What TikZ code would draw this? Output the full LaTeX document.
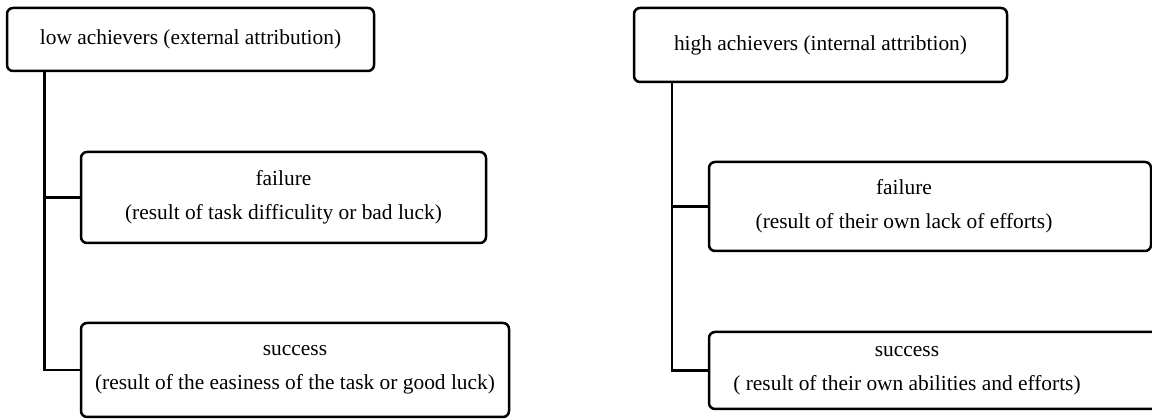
\documentclass[tikz,border=0pt]{standalone}
\usepackage{fontspec}
\setmainfont{Liberation Serif}
\tikzset{
  attrtext/.style={font=\fontsize{21.4}{34}\selectfont, align=center},
  attrbox/.style={attrtext, draw, rounded corners=6pt, line width=2.5pt, inner sep=0pt},
  stem/.style={line width=2.5pt},
}

\begin{document}
\begin{tikzpicture}[x=1pt, y=-1pt]
			%%%%% START %%%%%
			\useasboundingbox (0,0) rectangle (1152,419);
			\clip (0,0) rectangle (1152,419);
			
			% low achievers
			\node[attrbox, minimum width=367pt, minimum height=63pt] (lowhead) at (190.5, 39.5) {low achievers (external attribution)};
			\node[attrbox, minimum width=405pt, minimum height=91pt] (lowfail) at (283.5, 197.5) {failure\\(result of task difficulity or bad luck)};
			\node[attrbox, minimum width=428pt, minimum height=94pt] (lowsucc) at (295, 370) {success\\(result of the easiness of the task or good luck)};
			\coordinate (lowstem) at (44.5, 0);
			
			\draw[stem] (lowhead.south -| lowstem) |- (lowsucc.west);
			\draw[stem] (lowstem |- lowfail.west) -- (lowfail.west);
			
			% high achievers
			\node[attrbox, minimum width=373pt, minimum height=74pt] (highhead) at (820.5, 45) {high achievers (internal attribtion)};
			\node[attrbox, minimum width=442pt, minimum height=89pt,
				label={[attrtext, xshift=-26pt]center:failure\\(result of their own lack of efforts)}] (highfail) at (930, 206.5) {};
			\node[attrbox, minimum width=460pt, minimum height=77pt,
				label={[attrtext, xshift=-32pt]center:success\\( result of their own abilities and efforts)}] (highsucc) at (939, 370.5) {};
			\coordinate (highstem) at (672, 0);
			
			\draw[stem] (highhead.south -| highstem) |- (highsucc.west);
			\draw[stem] (highstem |- highfail.west) -- (highfail.west);
			
			%%%%% END %%%%%
\end{tikzpicture}
\end{document}
